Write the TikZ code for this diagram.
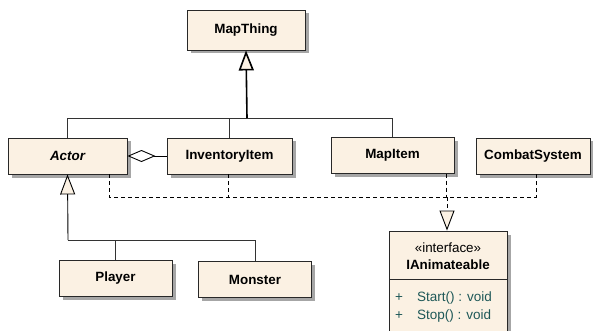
\documentclass[tikz,border=0pt]{standalone}
\usepackage{fontspec}
\setmainfont{Liberation Sans}
\usetikzlibrary{arrows.meta,shadows}
\definecolor{boxfill}{RGB}{251,241,227}
\definecolor{boxline}{RGB}{40,40,40}
\definecolor{membertext}{RGB}{30,88,88}
\tikzset{
  cls/.style={draw=boxline, line width=0.9pt, fill=boxfill, minimum height=36pt,
    inner sep=0pt, font=\fontsize{13.4}{16}\selectfont\bfseries,
    drop shadow={shadow xshift=3.5pt, shadow yshift=-3.5pt, fill=black!35, opacity=1}},
  genline/.style={draw=black!80, line width=0.9pt},
  gentip/.style={line width=0.9pt, solid, -{Triangle[fill=boxfill, length=20pt, width=15pt]}},
  dep/.style={draw=black, line width=0.9pt, dash pattern=on 4pt off 3pt},
  member/.style={font=\fontsize{13.5}{16}\selectfont, text=membertext, inner sep=0pt, anchor=west}
}
\begin{document}
\begin{tikzpicture}[x=1pt,y=-1pt]
\fill[white] (0,0) rectangle (593,331);
\useasboundingbox (0,0) rectangle (593,331);

\node[cls, minimum width=118pt, minimum height=40pt] (MapThing) at (246,30) {MapThing};
\node[cls, minimum width=119pt] (Actor) at (67.5,156) {\itshape Actor};
\node[cls, minimum width=125pt] (Inv) at (229.5,156) {InventoryItem};
\node[cls, minimum width=123pt] (MapItem) at (392.5,155.5) {MapItem};
\node[cls, minimum width=114pt] (Combat) at (533,156) {CombatSystem};
\node[cls, minimum width=113pt] (Player) at (115.5,278) {Player};
\node[cls, minimum width=113pt] (Monster) at (255,279.5) {Monster};
\node[cls, minimum width=118pt, minimum height=102pt] (IAnim) at (448,282) {};

% interface compartments
\node[font=\fontsize{13.4}{16}\selectfont, inner sep=0pt] (stereo) at (448,248) {«interface»};
\node[font=\fontsize{13.4}{16}\selectfont\bfseries, inner sep=0pt] (iname) at (448,265) {IAnimateable};
\coordinate (divL) at (389,279);
\coordinate (divR) at (507,279);
\draw[draw=boxline, line width=0.9pt] (divL) -- (divR);
\node[member] (p1) at (395,298) {+};
\node[member] (m1) at (417,298) {Start() : void};
\node[member] (p2) at (395,316) {+};
\node[member] (m2) at (417,316) {Stop() : void};

% generalization to MapThing
\coordinate (hub) at (247,118);
\draw[genline] (Actor.north) |- (hub);
\draw[genline] (Inv.north) |- (hub);
\draw[genline] (MapItem.north) |- (hub);
\draw[gentip, line width=1.6pt] (hub) -- (MapThing.south);

% generalization to Actor
\coordinate (hub2) at (68,240);
\draw[genline] (Player.north) |- (hub2);
\draw[genline] (Monster.north) |- (hub2);
\draw[gentip] (hub2) -- (Actor.south);

% aggregation
\draw[line width=0.9pt, -{Diamond[fill=white, length=28pt, width=12pt]}] (Inv.west) -- (Actor.east);

% realization (dashed)
\coordinate (aD) at (109,174);
\coordinate (aJ) at (109,197);
\coordinate (iD) at (228,174);
\coordinate (mD) at (446,173.5);
\coordinate (cD) at (536,174);
\coordinate (cJ) at (536,197);
\coordinate (rJ) at (447,197);
\coordinate (rB) at (447,211);
\draw[dep] (aD) -- (aJ) -- (cJ) -- (cD);
\draw[dep] (iD) -- (iD |- aJ);
\draw[dep] (mD) -- (mD |- aJ);
\draw[dep] (rJ) -- (rB);
\draw[gentip] (rB) -- (IAnim.north -| rJ);
\end{tikzpicture}
\end{document}
